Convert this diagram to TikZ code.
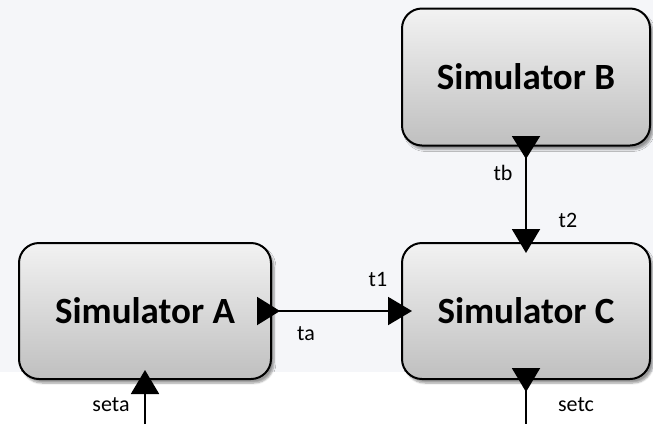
\documentclass[tikz,border=0pt]{standalone}
\usepackage{fontspec}
\setmainfont{Carlito}
\usetikzlibrary{arrows.meta,shadows.blur}
\definecolor{paneback}{RGB}{245,246,249}

\begin{document}
\begin{tikzpicture}[x=1pt, y=-1pt]
		\tikzstyle {sim} = [draw=black, line width=2pt, rounded corners=20pt, top color=gray!10, bottom color=gray!50, blur shadow={shadow xshift=3pt, shadow yshift=-4pt, shadow blur steps=6}, font=\fontsize{37}{44}\selectfont\bfseries, inner sep=0pt]
		\tikzstyle {link} = [line width=2pt, {Triangle[reversed, width=28pt, length=23pt]}-{Triangle[width=28pt, length=24pt]}]
		\tikzstyle {inlink} = [line width=2pt, -{Triangle[width=28pt, length=24pt]}]
		\tikzstyle {outlink} = [line width=2pt, {Triangle[reversed, width=28pt, length=24pt]}-]
		\tikzstyle {lbl} = [font=\fontsize{22}{26}\selectfont, inner sep=0pt]

		\useasboundingbox (0,0) rectangle (653,424);
		\fill[paneback] (0,0) rectangle (653,372);

		% the three simulators
		\node[sim, minimum width=252pt, minimum height=136pt] (A) at (145,311) {Simulator A};
		\node[sim, minimum width=248pt, minimum height=137pt] (B) at (526,77) {Simulator B};
		\node[sim, minimum width=248pt, minimum height=136pt] (C) at (526,311) {Simulator C};

		\coordinate (seta end) at (145,424);
		\coordinate (setc end) at (526,424);

		% ports and connections
		\draw[link] ([xshift=-15pt]A.east) -- ([xshift=11pt]C.west);
		\draw[link] ([yshift=10.5pt]B.south) -- ([yshift=-11pt]C.north);
		\draw[inlink] (seta end) -- ([yshift=10pt]A.south);
		\draw[outlink] ([yshift=12pt]C.south) -- (setc end);

		\node[lbl] (ta) at (306,334) {ta};
		\node[lbl] (t1) at (378,279) {t1};
		\node[lbl] (tb) at (503,173) {tb};
		\node[lbl] (t2) at (568,220) {t2};
		\node[lbl] (seta) at (111,405) {seta};
		\node[lbl] (setc) at (576,405) {setc};
\end{tikzpicture}
\end{document}
